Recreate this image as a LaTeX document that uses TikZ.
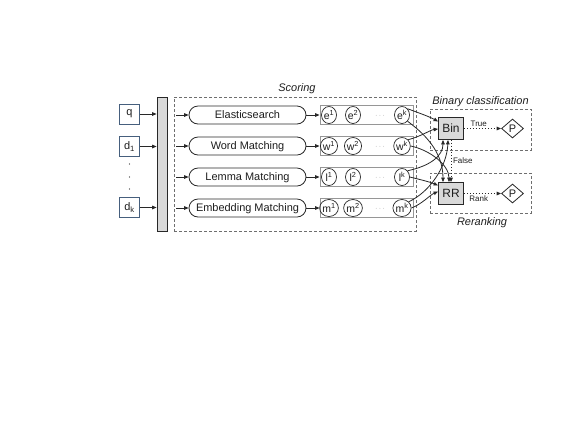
\documentclass[tikz,border=0pt]{standalone}
\usepackage{fontspec}
\setmainfont{Liberation Sans}
\usetikzlibrary{arrows.meta,shapes.misc,shapes.geometric}
\definecolor{inboxc}{RGB}{70,95,125}
\definecolor{txt}{RGB}{30,30,30}
\definecolor{ln}{RGB}{40,40,40}
\definecolor{barfill}{RGB}{217,217,217}
\definecolor{sboxc}{RGB}{150,150,150}
\definecolor{dashc}{RGB}{110,110,110}
\begin{document}
\begin{tikzpicture}[x=1bp,y=-1bp,
  font=\fontsize{11}{13}\selectfont, text=txt,
  tip/.style={-{Triangle[length=4.5bp,width=3.6bp]}},
  arr/.style={draw=ln, line width=0.8bp, tip},
  inbox/.style={draw=inboxc, line width=0.9bp, fill=white, minimum width=20bp, minimum height=20bp, inner sep=0pt},
  pill/.style={draw=ln, line width=0.8bp, rounded rectangle, minimum width=117bp, minimum height=18bp, inner sep=0pt, text height=8bp, text depth=1.5bp},
  sbox/.style={draw=sboxc, line width=0.9bp, minimum width=93bp, minimum height=19bp, inner sep=0pt},
  sc/.style={draw=ln, line width=0.7bp, ellipse, minimum width=15bp, minimum height=17bp, inner sep=0pt, font=\fontsize{10.5}{12}\selectfont},
  dbox/.style={draw=dashc, dash pattern=on 3bp off 2bp, line width=0.7bp, inner sep=0pt},
  gbox/.style={draw=ln, fill=barfill, line width=0.8bp, minimum width=25bp, minimum height=22bp, inner sep=0pt, font=\fontsize{12}{14}\selectfont},
  dia/.style={draw=ln, line width=0.8bp, diamond, minimum width=22bp, minimum height=19bp, inner sep=0pt},
  dotarr/.style={draw=ln, line width=1bp, dotted, tip},
  smalllab/.style={font=\fontsize{8}{9}\selectfont, inner sep=1.5bp},
  lab/.style={font=\fontsize{11}{13}\selectfont\itshape, inner sep=0pt},
  dotsl/.style={font=\fontsize{7}{8}\selectfont, text=gray, inner sep=0pt}
]
\useasboundingbox (0,0) rectangle (576,432);
\fill[white] (0,0) rectangle (576,432);

% inputs
\node[inbox] (q) at (129.5,114) {q};
\node[inbox] (d1) at (129.5,146.5) {d\textsubscript{1}};
\node[inbox] (dk) at (129.5,207.5) {d\textsubscript{k}};
\fill[ln] (129.5,164) circle (0.6bp) (129.5,177) circle (0.6bp) (129.5,189) circle (0.6bp);

% bar
\node[draw=ln, fill=barfill, line width=0.8bp, minimum width=10bp, minimum height=134bp, inner sep=0pt] (bar) at (162,164) {};

% scoring area
\node[dbox, minimum width=242bp, minimum height=134bp] (scoring) at (295,164) {};
\node[lab] (scorelab) at (297,89) {Scoring};

% pills
\node[pill] (p1) at (247.5,115) {Elasticsearch};
\node[pill] (p2) at (247.5,146) {Word Matching};
\node[pill] (p3) at (247.5,177) {Lemma Matching};
\node[pill] (p4) at (247.5,208) {Embedding Matching};

% score boxes
\node[sbox] (s1) at (366.5,115) {};
\node[sbox] (s2) at (366.5,146) {};
\node[sbox] (s3) at (366.5,177) {};
\node[sbox] (s4) at (366.5,208) {};

\node[sc] (e1) at (329,115) {e\textsuperscript{1}};
\node[sc] (e2) at (353,115) {e\textsuperscript{2}};
\node[dotsl] (e3) at (380,116) {$\cdots$};
\node[sc] (e4) at (402,115) {e\textsuperscript{k}};

\node[sc] (w1) at (329,146) {w\textsuperscript{1}};
\node[sc] (w2) at (353,146) {w\textsuperscript{2}};
\node[dotsl] (w3) at (380,147) {$\cdots$};
\node[sc] (w4) at (402,146) {w\textsuperscript{k}};

\node[sc] (l1) at (329,177) {l\textsuperscript{1}};
\node[sc] (l2) at (353,177) {l\textsuperscript{2}};
\node[dotsl] (l3) at (380,178) {$\cdots$};
\node[sc] (l4) at (402,177) {l\textsuperscript{k}};

\node[sc] (m1) at (329,208) {m\textsuperscript{1}};
\node[sc] (m2) at (353,208) {m\textsuperscript{2}};
\node[dotsl] (m3) at (380,209) {$\cdots$};
\node[sc] (m4) at (402,208) {m\textsuperscript{k}};

% classification areas
\node[dbox, minimum width=101bp, minimum height=41bp] (binarea) at (480.5,129.5) {};
\node[dbox, minimum width=101bp, minimum height=40bp] (rrarea) at (480.5,193) {};
\node[lab] (binlab) at (480.5,101.5) {Binary classification};
\node[lab] (rrlab) at (482,223) {Reranking};

\node[gbox] (bin) at (451,128.5) {Bin};
\node[gbox] (rr) at (451,193.5) {RR};
\node[dia] (pt) at (512.5,128.5) {P};
\node[dia] (pr) at (512.5,193.5) {P};

% arrows inputs -> bar
\draw[arr] (q.east) -- (q.east -| bar.west);
\draw[arr] (d1.east) -- (d1.east -| bar.west);
\draw[arr] (dk.east) -- (dk.east -| bar.west);

% bar -> pills
\draw[arr] ([xshift=9bp]bar.east |- p1.west) -- (p1.west);
\draw[arr] ([xshift=9bp]bar.east |- p2.west) -- (p2.west);
\draw[arr] ([xshift=9bp]bar.east |- p3.west) -- (p3.west);
\draw[arr] ([xshift=9bp]bar.east |- p4.west) -- (p4.west);

% pills -> score boxes
\draw[arr] (p1.east) -- (s1.west);
\draw[arr] (p2.east) -- (s2.west);
\draw[arr] (p3.east) -- (s3.west);
\draw[arr] (p4.east) -- (s4.west);

% scores -> classifiers
\draw[arr] (e4.north east) .. controls (422,114) and (430,117) .. ([yshift=7bp]bin.west);
\draw[arr] (w4.north east) .. controls (422,136) and (430,130) .. ([yshift=-0.5bp]bin.west);
\draw[arr] (e4.south east) .. controls (422,132) and (443,150) .. ([xshift=-8bp]rr.north);
\draw[arr] (w4.east) .. controls (430,150) and (449,165) .. ([xshift=-2bp]rr.north);
\draw[arr] (l4.north east) .. controls (430,166) and (443,156) .. ([xshift=-8bp]bin.south);
\draw[arr] (m4.north east) .. controls (430,192) and (447,166) .. ([xshift=-3bp]bin.south);
\draw[arr] (l4.east) .. controls (422,180) and (430,182) .. ([yshift=8bp]rr.west);
\draw[arr] (m4.east) .. controls (422,204) and (430,195) .. ([yshift=2bp]rr.west);

% dotted decision arrows
\draw[dotarr] (bin.east) -- node[pos=0.4, above, smalllab] {True} (pt.west);
\draw[dotarr] (bin.south) -- node[right, smalllab] {False} (rr.north);
\draw[dotarr] (rr.east) -- node[pos=0.4, below, smalllab] {Rank} (pr.west);
\end{tikzpicture}
\end{document}
